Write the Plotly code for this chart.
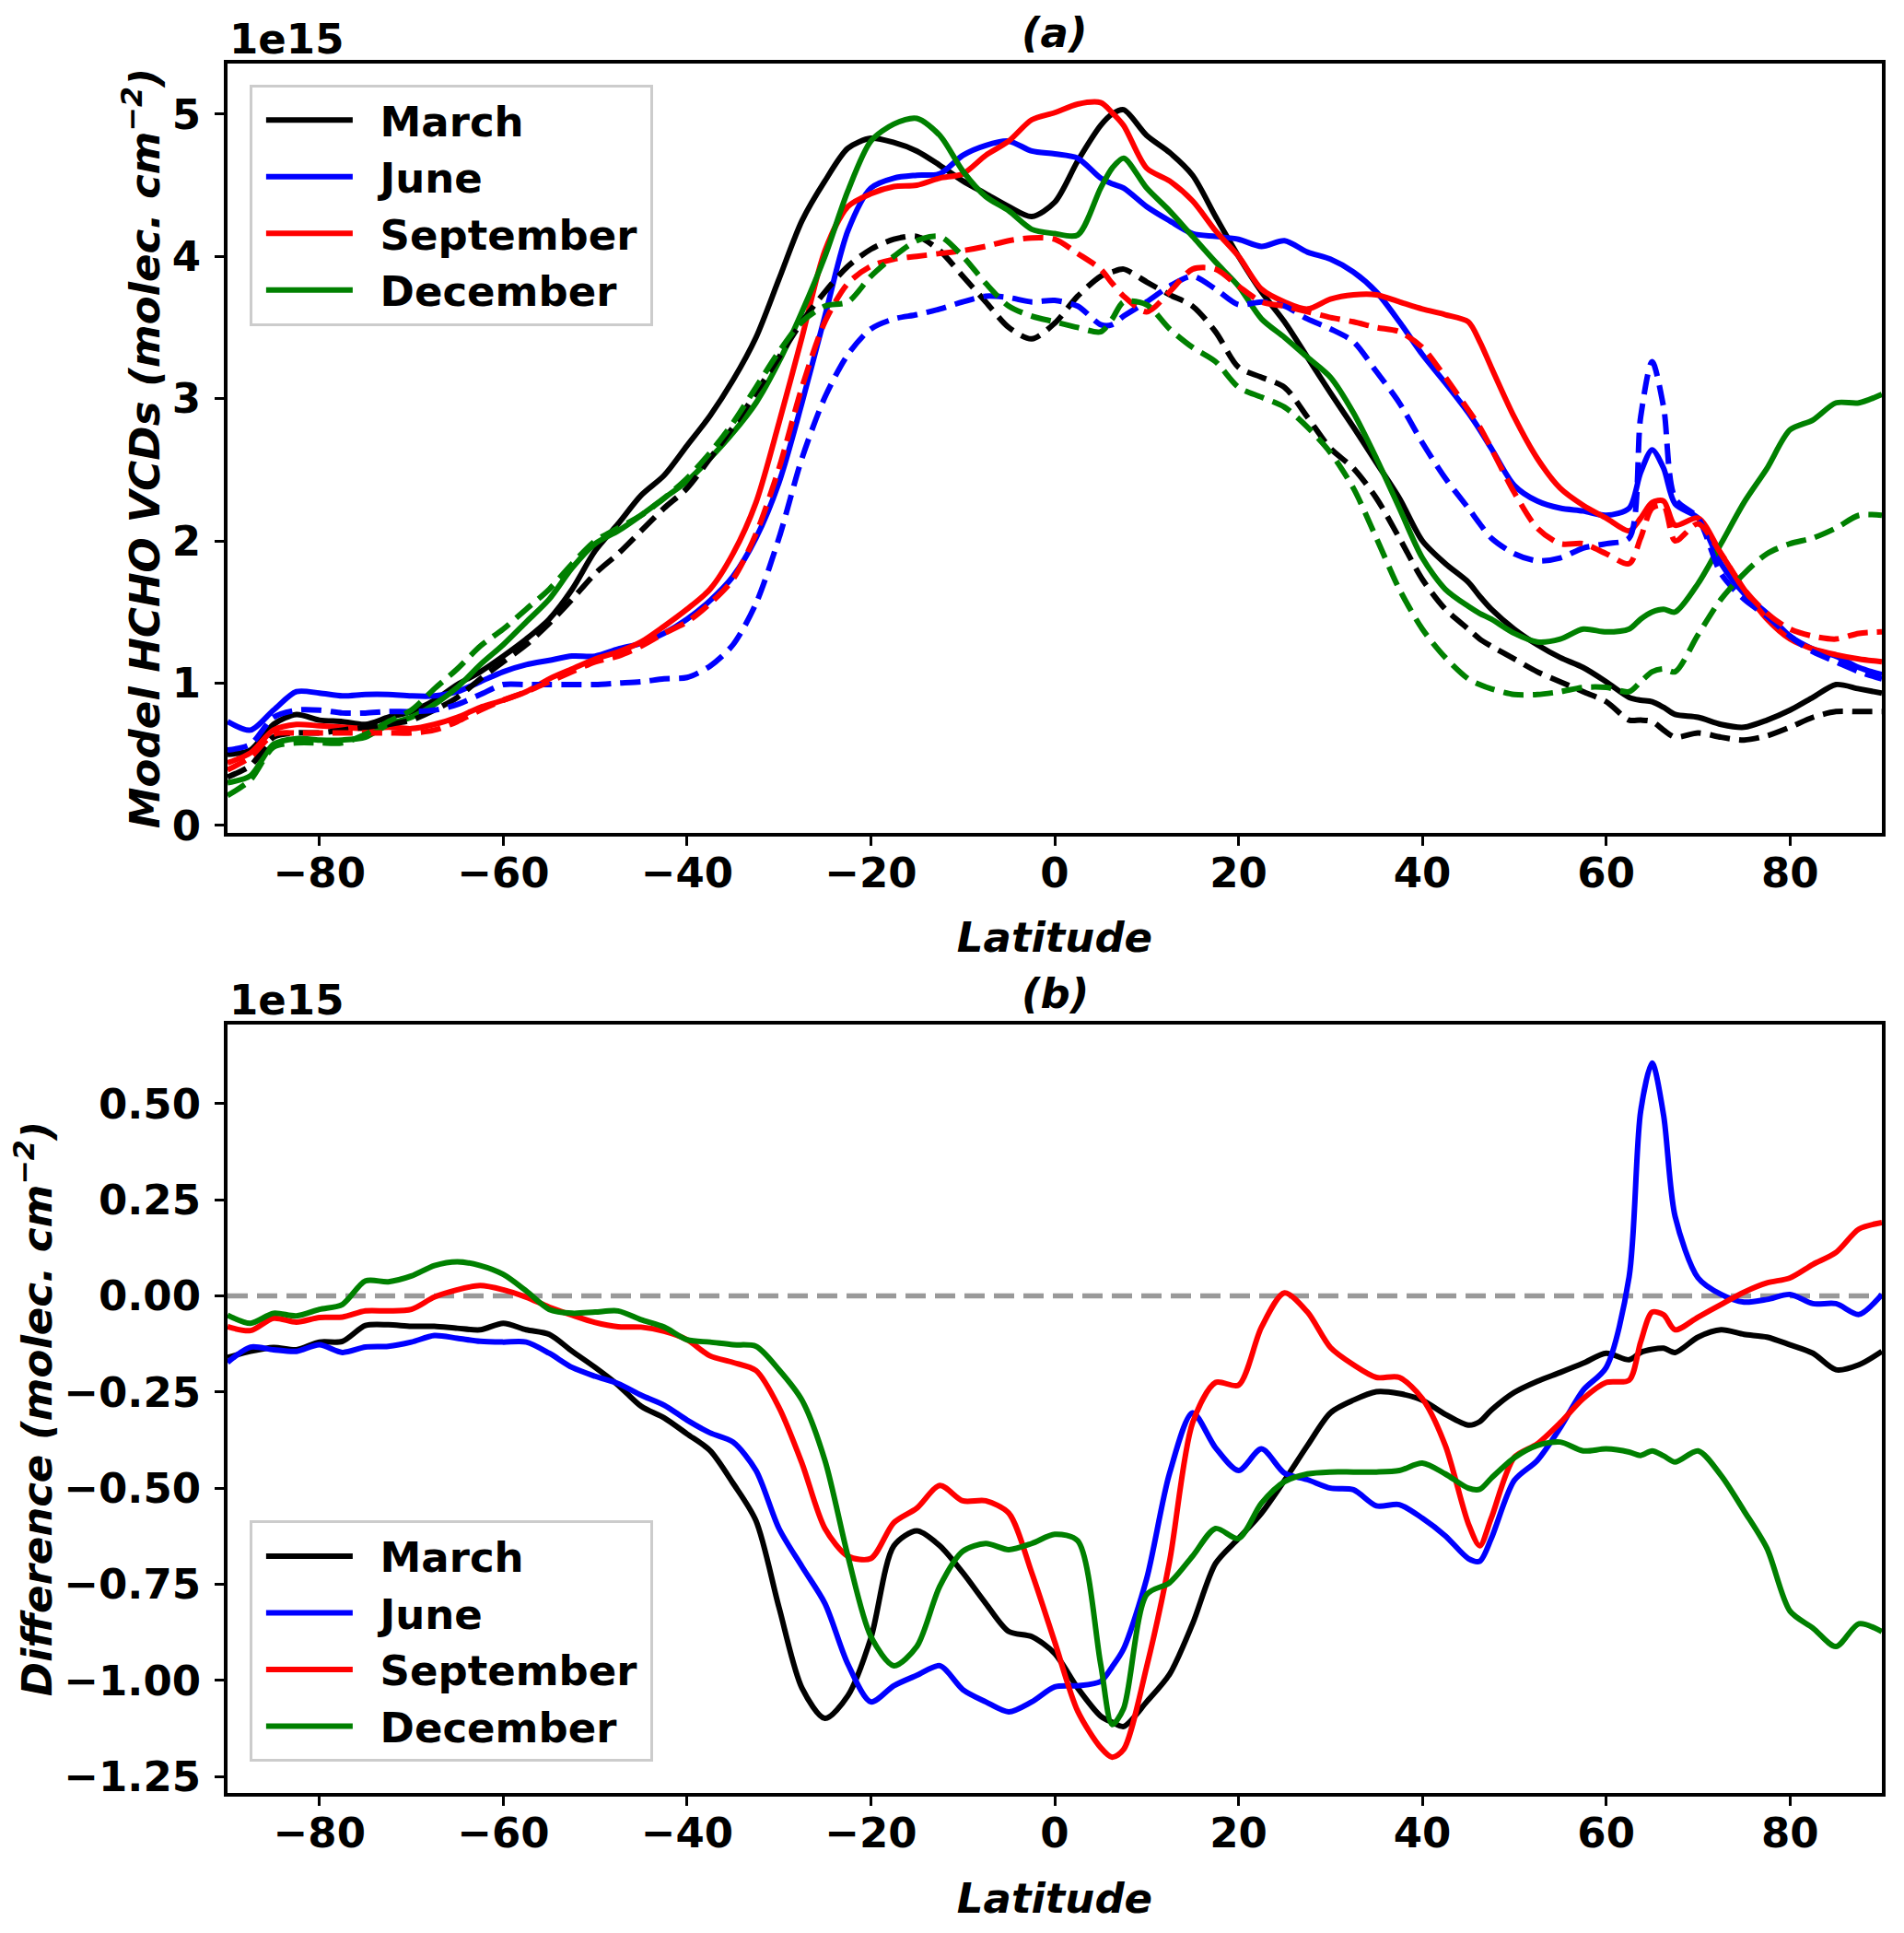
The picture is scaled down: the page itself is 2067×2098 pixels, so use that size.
import plotly.graph_objects as go

# Latitude grid (degrees)
LAT = [-90, -87.5, -85, -82.5, -80, -77.5, -75, -72.5, -70, -67.5, -65, -62.5, -60, -57.5, -55, -52.5,
       -50, -47.5, -45, -42.5, -40, -37.5, -35, -32.5, -30, -27.5, -25, -22.5, -20, -17.5, -15, -12.5,
       -10, -7.5, -5, -2.5, 0, 2.5, 5, 6.25, 7.5, 10, 12.5, 15, 17.5, 20, 22.5, 25, 27.5, 30, 32.5, 35,
       37.5, 40, 42.5, 45, 46.25, 47.5, 50, 52.5, 55, 57.5, 60, 62.5, 63.75, 65, 66.25, 67.5, 70, 72.5,
       75, 77.5, 80, 82.5, 85, 87.5, 90]

# Panel (a): model HCHO VCDs, units of 1e15 molec. cm-2 (solid and dashed runs)
MARCH_A = [0.50, 0.53, 0.71, 0.78, 0.74, 0.73, 0.71, 0.76, 0.80, 0.88, 0.99, 1.08, 1.19, 1.31, 1.45, 1.66,
           1.93, 2.12, 2.32, 2.46, 2.67, 2.88, 3.13, 3.43, 3.84, 4.25, 4.53, 4.76, 4.83, 4.80, 4.74, 4.64,
           4.53, 4.44, 4.35, 4.28, 4.38, 4.67, 4.92, 5.00, 5.03, 4.85, 4.73, 4.57, 4.28, 4.00, 3.75, 3.54,
           3.29, 3.04, 2.80, 2.55, 2.30, 2.00, 1.84, 1.71, 1.61, 1.52, 1.38, 1.27, 1.18, 1.11, 1.01, 0.90,
           0.88, 0.87, 0.83, 0.78, 0.76, 0.71, 0.69, 0.74, 0.81, 0.90, 0.99, 0.96, 0.93]
MARCH_A_DASH = [0.34, 0.42, 0.62, 0.65, 0.65, 0.67, 0.69, 0.71, 0.74, 0.81, 0.90, 1.03, 1.15, 1.27, 1.42, 1.59,
                1.77, 1.91, 2.07, 2.23, 2.37, 2.58, 2.80, 3.04, 3.29, 3.54, 3.75, 3.93, 4.05, 4.12, 4.14, 4.04,
                3.86, 3.68, 3.50, 3.42, 3.53, 3.72, 3.86, 3.89, 3.91, 3.82, 3.73, 3.65, 3.47, 3.22, 3.15, 3.08,
                2.87, 2.65, 2.51, 2.30, 2.02, 1.73, 1.52, 1.38, 1.31, 1.26, 1.17, 1.08, 1.01, 0.94, 0.87, 0.74,
                0.74, 0.73, 0.67, 0.62, 0.65, 0.62, 0.60, 0.63, 0.69, 0.76, 0.80, 0.80, 0.80]
JUNE_A = [0.73, 0.67, 0.81, 0.94, 0.93, 0.91, 0.92, 0.92, 0.91, 0.91, 0.94, 1.01, 1.08, 1.13, 1.16, 1.19,
          1.19, 1.24, 1.28, 1.35, 1.45, 1.58, 1.75, 2.02, 2.41, 2.97, 3.58, 4.18, 4.48, 4.55, 4.57, 4.58,
          4.71, 4.78, 4.81, 4.74, 4.72, 4.69, 4.55, 4.51, 4.48, 4.35, 4.25, 4.16, 4.14, 4.12, 4.07, 4.11,
          4.03, 3.98, 3.89, 3.75, 3.54, 3.31, 3.11, 2.90, 2.78, 2.65, 2.39, 2.28, 2.23, 2.21, 2.18, 2.23,
          2.48, 2.64, 2.51, 2.26, 2.16, 1.84, 1.63, 1.49, 1.33, 1.24, 1.19, 1.11, 1.06]
JUNE_A_DASH = [0.53, 0.57, 0.76, 0.81, 0.81, 0.79, 0.79, 0.80, 0.80, 0.81, 0.85, 0.92, 0.99, 0.99, 0.99, 0.99,
               0.99, 1.00, 1.01, 1.03, 1.04, 1.12, 1.27, 1.56, 2.02, 2.58, 3.01, 3.31, 3.49, 3.56, 3.59, 3.63,
               3.68, 3.72, 3.71, 3.68, 3.69, 3.65, 3.52, 3.52, 3.58, 3.68, 3.79, 3.86, 3.77, 3.66, 3.68, 3.65,
               3.56, 3.49, 3.40, 3.19, 2.97, 2.69, 2.44, 2.23, 2.12, 2.02, 1.91, 1.86, 1.88, 1.95, 1.98, 2.02,
               2.87, 3.26, 2.94, 2.30, 2.16, 1.77, 1.59, 1.47, 1.33, 1.22, 1.15, 1.08, 1.03]
SEPT_A = [0.44, 0.51, 0.67, 0.71, 0.70, 0.69, 0.68, 0.69, 0.68, 0.71, 0.76, 0.83, 0.88, 0.94, 1.03, 1.10,
          1.17, 1.22, 1.29, 1.40, 1.52, 1.66, 1.91, 2.27, 2.83, 3.43, 4.04, 4.35, 4.44, 4.49, 4.50, 4.55,
          4.58, 4.71, 4.81, 4.96, 5.01, 5.07, 5.08, 5.01, 4.92, 4.62, 4.53, 4.39, 4.18, 4.00, 3.77, 3.68,
          3.63, 3.70, 3.73, 3.73, 3.68, 3.63, 3.59, 3.54, 3.40, 3.22, 2.87, 2.58, 2.37, 2.25, 2.16, 2.07,
          2.16, 2.27, 2.28, 2.11, 2.16, 1.91, 1.66, 1.45, 1.31, 1.24, 1.20, 1.17, 1.15]
SEPT_A_DASH = [0.39, 0.48, 0.64, 0.65, 0.65, 0.65, 0.65, 0.65, 0.65, 0.67, 0.73, 0.81, 0.88, 0.94, 1.01, 1.08,
               1.15, 1.19, 1.26, 1.35, 1.43, 1.56, 1.73, 2.05, 2.51, 3.08, 3.54, 3.81, 3.93, 3.98, 4.00, 4.02,
               4.04, 4.07, 4.11, 4.13, 4.12, 4.02, 3.91, 3.81, 3.72, 3.61, 3.75, 3.91, 3.91, 3.79, 3.68, 3.65,
               3.61, 3.57, 3.54, 3.50, 3.47, 3.36, 3.15, 2.92, 2.80, 2.65, 2.34, 2.09, 1.98, 1.98, 1.91, 1.84,
               2.02, 2.23, 2.25, 2.00, 2.12, 1.91, 1.66, 1.49, 1.38, 1.33, 1.31, 1.35, 1.36]
DEC_A = [0.30, 0.35, 0.57, 0.61, 0.60, 0.60, 0.62, 0.71, 0.76, 0.85, 0.97, 1.13, 1.27, 1.43, 1.59, 1.81,
         1.98, 2.07, 2.18, 2.30, 2.42, 2.58, 2.76, 2.97, 3.26, 3.61, 4.00, 4.46, 4.81, 4.93, 4.97, 4.85,
         4.60, 4.42, 4.32, 4.19, 4.16, 4.15, 4.48, 4.62, 4.69, 4.48, 4.32, 4.14, 3.96, 3.79, 3.56, 3.43,
         3.29, 3.15, 2.90, 2.58, 2.23, 1.88, 1.66, 1.54, 1.49, 1.45, 1.35, 1.29, 1.31, 1.38, 1.36, 1.38,
         1.45, 1.50, 1.52, 1.50, 1.70, 1.98, 2.27, 2.51, 2.78, 2.85, 2.97, 2.97, 3.03]
DEC_A_DASH = [0.21, 0.32, 0.55, 0.58, 0.58, 0.58, 0.64, 0.73, 0.81, 0.96, 1.10, 1.26, 1.38, 1.52, 1.66, 1.84,
              2.00, 2.09, 2.18, 2.30, 2.44, 2.62, 2.83, 3.08, 3.33, 3.54, 3.65, 3.68, 3.86, 4.00, 4.11, 4.14,
              4.00, 3.81, 3.65, 3.58, 3.54, 3.50, 3.47, 3.56, 3.68, 3.66, 3.49, 3.36, 3.26, 3.08, 3.01, 2.94,
              2.80, 2.62, 2.37, 2.02, 1.66, 1.38, 1.18, 1.03, 0.99, 0.96, 0.92, 0.92, 0.94, 0.97, 0.97, 0.94,
              1.01, 1.08, 1.10, 1.08, 1.34, 1.59, 1.77, 1.91, 1.98, 2.02, 2.09, 2.18, 2.18]

# Panel (b): differences, units of 1e15 molec. cm-2
MARCH_B = [-0.16, -0.144, -0.134, -0.14, -0.12, -0.118, -0.077, -0.075, -0.079, -0.079, -0.084, -0.088, -0.071,
           -0.088, -0.10, -0.144, -0.186, -0.232, -0.287, -0.317, -0.359, -0.402, -0.487, -0.585, -0.81, -1.02,
           -1.099, -1.04, -0.89, -0.65, -0.611, -0.65, -0.72, -0.80, -0.873, -0.886, -0.93, -1.02, -1.093,
           -1.109, -1.12, -1.056, -0.984, -0.853, -0.696, -0.631, -0.565, -0.48, -0.389, -0.304, -0.271,
           -0.249, -0.254, -0.271, -0.308, -0.336, -0.327, -0.297, -0.251, -0.222, -0.199, -0.175, -0.149,
           -0.166, -0.147, -0.139, -0.136, -0.147, -0.107, -0.088, -0.10, -0.107, -0.127, -0.149, -0.192,
           -0.179, -0.144]
JUNE_B = [-0.173, -0.133, -0.14, -0.144, -0.127, -0.147, -0.133, -0.131, -0.12, -0.103, -0.11, -0.118, -0.12,
          -0.12, -0.149, -0.186, -0.209, -0.228, -0.258, -0.284, -0.323, -0.356, -0.38, -0.454, -0.605, -0.704,
          -0.80, -0.958, -1.056, -1.014, -0.987, -0.962, -1.024, -1.056, -1.082, -1.056, -1.017, -1.014,
          -1.003, -0.965, -0.918, -0.736, -0.461, -0.304, -0.395, -0.454, -0.398, -0.461, -0.478, -0.50,
          -0.504, -0.546, -0.543, -0.578, -0.624, -0.683, -0.69, -0.631, -0.48, -0.428, -0.343, -0.245,
          -0.186, 0.05, 0.48, 0.606, 0.47, 0.207, 0.047, 0.004, -0.016, -0.009, 0.004, -0.02, -0.02,
          -0.048, 0.004]
SEPT_B = [-0.08, -0.09, -0.058, -0.068, -0.056, -0.055, -0.039, -0.039, -0.035, -0.003, 0.016, 0.027, 0.016,
          -0.003, -0.029, -0.05, -0.069, -0.08, -0.081, -0.092, -0.114, -0.156, -0.173, -0.194, -0.29, -0.435,
          -0.605, -0.677, -0.683, -0.59, -0.552, -0.493, -0.533, -0.533, -0.565, -0.72, -0.90, -1.08, -1.175,
          -1.20, -1.18, -0.965, -0.69, -0.33, -0.225, -0.232, -0.081, 0.008, -0.042, -0.134, -0.179, -0.212,
          -0.212, -0.267, -0.389, -0.592, -0.65, -0.578, -0.42, -0.385, -0.33, -0.267, -0.225, -0.219, -0.12,
          -0.042, -0.049, -0.088, -0.055, -0.022, 0.01, 0.034, 0.047, 0.082, 0.113, 0.174, 0.191]
DEC_B = [-0.05, -0.071, -0.045, -0.052, -0.035, -0.022, 0.039, 0.037, 0.052, 0.079, 0.089, 0.079, 0.056,
         0.013, -0.035, -0.045, -0.042, -0.039, -0.062, -0.081, -0.114, -0.12, -0.127, -0.131, -0.192, -0.271,
         -0.428, -0.677, -0.886, -0.962, -0.912, -0.755, -0.664, -0.644, -0.66, -0.644, -0.62, -0.637, -0.958,
         -1.115, -1.073, -0.777, -0.746, -0.677, -0.605, -0.631, -0.539, -0.483, -0.463, -0.458, -0.458,
         -0.458, -0.454, -0.435, -0.463, -0.50, -0.503, -0.474, -0.421, -0.389, -0.38, -0.403, -0.398, -0.406,
         -0.415, -0.403, -0.416, -0.432, -0.403, -0.467, -0.559, -0.657, -0.82, -0.864, -0.912, -0.853, -0.873]

MONTHS = ["March", "June", "September", "December"]
COLORS = ["#000000", "#0000ff", "#ff0000", "#008000"]
PANEL_A = [MARCH_A, JUNE_A, SEPT_A, DEC_A]
PANEL_A_DASH = [MARCH_A_DASH, JUNE_A_DASH, SEPT_A_DASH, DEC_A_DASH]
PANEL_B = [MARCH_B, JUNE_B, SEPT_B, DEC_B]
X_TICKS = [-80, -60, -40, -20, 0, 20, 40, 60, 80]
Y_TICKS_A = [0, 1, 2, 3, 4, 5]
Y_TICKS_B = [-1.25, -1.00, -0.75, -0.50, -0.25, 0.00, 0.25, 0.50]

FONT = "DejaVu Sans"
FS = 45
LW = 6
DASH = "22px,10px"
GAP = "\u00a0\u2009"   # small gap between legend line sample and label
TAIL = "\u2009"         # small right padding inside legend box

fig = go.Figure()

for name, col, ys in zip(MONTHS, COLORS, PANEL_A):
    fig.add_trace(go.Scatter(x=LAT, y=ys, mode="lines", name=GAP + name + TAIL, legendgroup=name,
                             line=dict(color=col, width=LW, shape="spline", smoothing=0.8),
                             xaxis="x", yaxis="y", legend="legend"))
for name, col, ys in zip(MONTHS, COLORS, PANEL_A_DASH):
    fig.add_trace(go.Scatter(x=LAT, y=ys, mode="lines", name=name, legendgroup=name, showlegend=False,
                             line=dict(color=col, width=LW, dash=DASH, shape="spline", smoothing=0.8),
                             xaxis="x", yaxis="y"))
for name, col, ys in zip(MONTHS, COLORS, PANEL_B):
    fig.add_trace(go.Scatter(x=LAT, y=ys, mode="lines", name=GAP + name + TAIL,
                             line=dict(color=col, width=LW, shape="spline", smoothing=0.8),
                             xaxis="x2", yaxis="y2", legend="legend2"))

tickfont = dict(family=FONT, size=FS, color="black", weight="bold")
titlefont = dict(family=FONT, size=FS, color="black", weight="bold", style="italic")
axis_common = dict(showline=True, linewidth=4, linecolor="black", mirror=True, ticks="outside",
                   ticklen=10, tickwidth=3, tickcolor="black", showgrid=False, zeroline=False,
                   tickfont=tickfont)
legend_common = dict(xref="paper", yref="paper", xanchor="left", yanchor="top",
                     bgcolor="rgba(255,255,255,0.8)", bordercolor="#cccccc", borderwidth=3,
                     font=dict(family=FONT, size=FS, color="black", weight="bold"),
                     itemwidth=94, tracegroupgap=0, indentation=10)

fig.update_layout(
    width=2051, height=2082,
    margin=dict(l=239, r=13, t=61, b=137),
    paper_bgcolor="white", plot_bgcolor="white",
    font=dict(family=FONT, size=FS, color="black"),
    xaxis=dict(domain=[0, 1], anchor="y", range=[-90, 90], tickvals=X_TICKS, ticklabelstandoff=-9,
               title=dict(text="Latitude", font=titlefont, standoff=30), **axis_common),
    yaxis=dict(domain=[0.5552, 1.0], anchor="x", range=[-0.052, 5.355], tickvals=Y_TICKS_A,
               ticktext=[str(v) for v in Y_TICKS_A], ticklabelstandoff=6,
               title=dict(text="Model HCHO VCDs (molec. cm<sup>−2</sup>)", font=titlefont, standoff=0),
               **axis_common),
    xaxis2=dict(domain=[0, 1], anchor="y2", range=[-90, 90], tickvals=X_TICKS, ticklabelstandoff=-9,
                title=dict(text="Latitude", font=titlefont, standoff=30), **axis_common),
    yaxis2=dict(domain=[0, 0.4443], anchor="x2", range=[-1.293, 0.706], tickvals=Y_TICKS_B,
                ticktext=[f"{v:.2f}".replace("-", "−") for v in Y_TICKS_B], ticklabelstandoff=6,
                title=dict(text="Difference (molec. cm<sup>−2</sup>)", font=titlefont, standoff=3),
                **axis_common),
    legend=dict(x=0.0133, y=0.988, **legend_common),
    legend2=dict(x=0.0133, y=0.1576, **legend_common),
    showlegend=True,
)

# zero reference line in panel (b)
fig.add_shape(type="line", xref="x2 domain", yref="y2", x0=0, x1=1, y0=0, y1=0,
              line=dict(color="#999999", width=5.5, dash=DASH), layer="below")

# panel titles and offset (scale) labels
for xa, ya, lab in [("x", "y", "(a)"), ("x2", "y2", "(b)")]:
    fig.add_annotation(text=lab, xref=f"{xa} domain", yref=f"{ya} domain", x=0.5, y=1.0,
                       xanchor="center", yanchor="bottom", yshift=5, showarrow=False, font=titlefont)
    fig.add_annotation(text="1e15", xref=f"{xa} domain", yref=f"{ya} domain", x=0.0, y=1.0,
                       xanchor="left", yanchor="bottom", yshift=-2, showarrow=False, font=tickfont)

fig.write_html("out.html")
